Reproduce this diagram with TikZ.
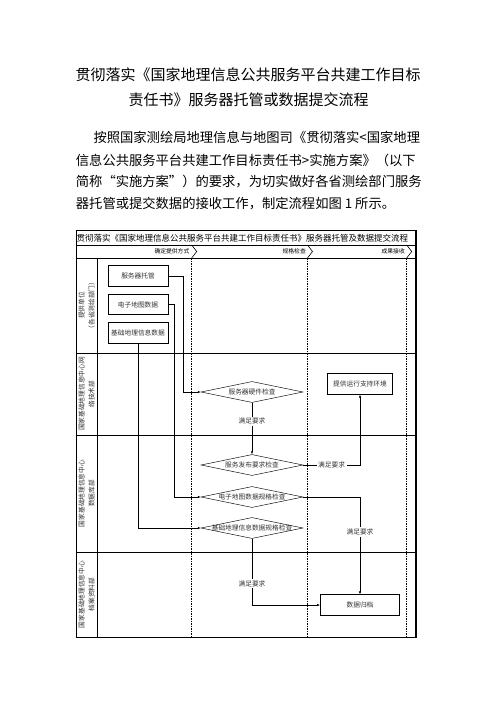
\documentclass[tikz,border=0pt]{standalone}
\usepackage{fontspec}
\setmainfont{Noto Sans CJK SC}
\usetikzlibrary{positioning, arrows.meta, shapes.geometric, calc}

\begin{document}
\begin{tikzpicture}[
  x=1pt, y=-1pt,
  ttl/.style={font=\fontsize{15}{18}\selectfont, inner sep=0pt},
  para/.style={font=\fontsize{13.3}{16}\selectfont, anchor=west, inner sep=0pt},
  lbl/.style={font=\fontsize{6.7}{8}\selectfont, text=black!80},
  phase/.style={font=\fontsize{5.8}{7}\selectfont, anchor=east, inner sep=0pt},
  lane/.style={rotate=90, align=center, inner sep=0pt, text=black!80, font=\fontsize{6.7}{10}\selectfont},
  box/.style={draw, line width=0.7pt, lbl, minimum width=60pt, minimum height=20.5pt, inner sep=1pt},
  dia/.style={draw, diamond, line width=0.45pt, minimum width=102pt, minimum height=21pt,
    inner sep=0pt, label={[lbl, inner sep=0pt]center:#1}},
  arr/.style={line width=0.7pt, -{Latex[length=3pt, width=2.4pt]}},
  ok/.style={lbl, fill=white, inner sep=1.5pt},
]
  \fill[white] (0,0) rectangle (496,702);
  \useasboundingbox (0,0) rectangle (496,702);

  \node[ttl] (t1) at (248,75) {贯彻落实《国家地理信息公共服务平台共建工作目标};
  \node[ttl] (t2) at (248.5,99.5) {责任书》服务器托管或数据提交流程};

  \node[para] (p1) at (93.3,137.3) {按照国家测绘局地理信息与地图司《贯彻落实<国家地理};
  \node[para] (p2) at (75.7,160) {信息公共服务平台共建工作目标责任书>实施方案》（以下};
  \node[para] (p3) at (75.7,182) {简称“实施方案”）的要求，为切实做好各省测绘部门服务};
  \node[para] (p4) at (75.7,204) {器托管或提交数据的接收工作，制定流程如图 1 所示。};

  \draw[line width=0.8pt] (76,230.7) rectangle (416,637);
  \draw[line width=1.5pt] (416,230.7) -- (416,637);
  \draw[line width=0.6pt] (76,245) -- (416,245) (76,258) -- (416,258);
  \draw[line width=0.6pt] (97,258) -- (97,637);
  \draw[line width=0.6pt] (76,353) -- (416,353) (76,435.5) -- (416,435.5) (76,552) -- (416,552);
  \foreach \d in {191.7, 307.5, 406.7} {
    \draw[line width=0.5pt, dash pattern=on 1.5pt off 1pt] (\d,258) -- (\d,637);
    \draw[line width=0.6pt] (\d,245) -- (\d+5,251.5) -- (\d,258);
  }

  \node[anchor=west, inner sep=0pt, font=\fontsize{8.5}{10}\selectfont] (head) at (76.5,238)
    {贯彻落实《国家地理信息公共服务平台共建工作目标责任书》服务器托管及数据提交流程};
  \node[phase] (ph1) at (189.5,251.5) {确定提供方式};
  \node[phase] (ph2) at (306,251.5) {规格检查};
  \node[phase] (ph3) at (405,251.5) {成果接收};

  \node[lane] (l1) at (86.5,305.5) {提供单位\\（各省测绘部门）};
  \node[lane] (l2) at (86.5,394) {国家基础地理信息中心网\\络技术部};
  \node[lane] (l3) at (86.5,493.5) {国家基础地理信息中心\\数据库部};
  \node[lane] (l4) at (86.5,594.5) {国家基础地理信息中心\\档案资料部};

  \node[box] (srv) at (138,276) {服务器托管};
  \node[box] (map) at (138,304.5) {电子地图数据};
  \node[box] (bas) at (138,333) {基础地理信息数据};
  \node[box, minimum width=65pt] (env) at (360,384) {提供运行支持环境};
  \node[box, minimum width=79pt] (arch) at (360,605) {数据归档};

  \node[dia=服务器硬件检查] (hw) at (252,392) {};
  \node[dia=服务发布要求检查] (pub) at (252,465) {};
  \node[dia=电子地图数据规格检查] (dm) at (252,497) {};
  \node[dia=基础地理信息数据规格检查] (bd) at (252,528) {};

  \draw[arr] (srv.east) -- ++(14.7,0) |- (hw.west);
  \draw[arr] (map.east) -- ++(6.3,0) |- (dm.west);
  \draw[arr] (bas.south) |- (bd.west);
  \draw[arr] (hw.south) -- node[ok, pos=0.36] {满足要求} (pub.north);
  \draw[arr] (pub.east) -| node[ok, pos=0.25] {满足要求} (env.south);
  \draw[arr] (dm.east) -| node[ok, pos=0.68] {满足要求} (arch.north);
  \draw[arr] (bd.south) |- node[ok, pos=0.34] {满足要求} (arch.west);
\end{tikzpicture}
\end{document}
